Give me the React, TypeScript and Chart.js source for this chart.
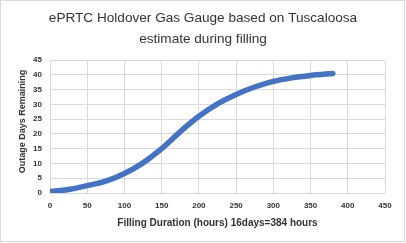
import React, { useEffect, useRef } from "react";
import { Chart, registerables } from "chart.js";

Chart.register(...registerables);

const titleLines = ["ePRTC Holdover Gas Gauge based on Tuscaloosa", "estimate during filling"];
const xAxisTitle = "Filling Duration (hours) 16days=384 hours";
const yAxisTitle = "    Outage Days Remaining";
const fillingHours = [0, 25, 50, 75, 100, 125, 150, 175, 200, 225, 250, 275, 300, 325, 350, 380];
const daysRemaining = [0.5, 1.2, 2.5, 4.0, 6.6, 10.2, 15.0, 20.8, 26.0, 30.2, 33.4, 35.9, 37.8, 39.0, 39.8, 40.5];

const FONT = "'Liberation Sans', Arial, sans-serif";

export default function App() {
  const ref = useRef<HTMLCanvasElement>(null);
  useEffect(() => {
    document.body.style.margin = "0";
    const canvas = ref.current!;
    const borderPlugin = {
      id: "outerBorder",
      afterDraw(chart: any) {
        const c = chart.ctx;
        c.save();
        c.strokeStyle = "#d9d9d9";
        c.lineWidth = 1;
        c.strokeRect(0.5, 0.5, 404, 241);
        c.restore();
      },
    };
    const chart = new Chart(canvas, {
      type: "scatter",
      data: {
        datasets: [
          {
            data: fillingHours.map((x, i) => ({ x, y: daysRemaining[i] })),
            showLine: true,
            borderColor: "#4472C4",
            backgroundColor: "#4472C4",
            borderWidth: 5.5,
            borderCapStyle: "round",
            borderJoinStyle: "round",
            pointRadius: 0,
            cubicInterpolationMode: "monotone",
          } as any,
        ],
      },
      options: {
        animation: false,
        responsive: false,
        maintainAspectRatio: false,
        layout: { padding: { top: 8, right: 10.5, bottom: 0, left: 10.5 } },
        plugins: {
          legend: { display: false },
          tooltip: { enabled: false },
          title: {
            display: true,
            text: titleLines,
            color: "#333333",
            font: { family: FONT, size: 13.6, weight: "normal", lineHeight: 1.55 },
            padding: { top: 0, bottom: 10 },
          },
        },
        scales: {
          x: {
            type: "linear",
            min: 0,
            max: 450,
            ticks: {
              stepSize: 50,
              color: "#333333",
              padding: 8,
              maxRotation: 0,
              font: { family: FONT, size: 8, weight: "bold" },
            },
            grid: { color: "#d9d9d9", drawTicks: false },
            border: { display: false },
            title: {
              display: true,
              text: xAxisTitle,
              color: "#333333",
              font: { family: FONT, size: 10, weight: "bold" },
              padding: { top: 0, bottom: 14 },
            },
            afterFit(scale: any) {
              scale.height = 50;
            },
          },
          y: {
            type: "linear",
            min: 0,
            max: 45,
            ticks: {
              stepSize: 5,
              color: "#333333",
              padding: 8,
              font: { family: FONT, size: 8, weight: "bold" },
            },
            grid: { color: "#d9d9d9", drawTicks: false },
            border: { display: false },
            title: {
              display: true,
              text: yAxisTitle,
              color: "#333333",
              font: { family: FONT, size: 9, weight: "bold" },
              padding: { top: 7, bottom: 0 },
            },
            afterFit(scale: any) {
              scale.width = 39.5;
            },
          },
          spacer: {
            type: "linear",
            position: "right",
            display: true,
            ticks: { display: false },
            grid: { display: false },
            border: { display: false },
            afterFit(scale: any) {
              scale.width = 10.5;
            },
          },
        },
      },
      plugins: [borderPlugin],
    });
    return () => chart.destroy();
  }, []);
  return <canvas ref={ref} width={406} height={243} style={{ display: "block" }} />;
}
